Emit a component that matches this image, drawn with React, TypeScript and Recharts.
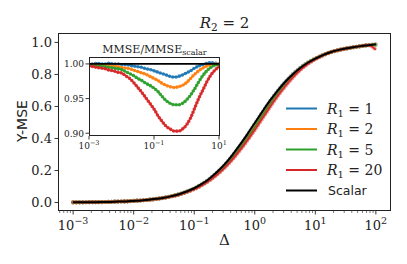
import { LineChart, Line, XAxis, YAxis, ReferenceLine } from 'recharts'

// #region Data
// log10(Δ) sampling grid
const EXPONENTS = [
  -3, -2.875, -2.75, -2.625, -2.5, -2.375, -2.25, -2.125, -2, -1.875, -1.75, -1.625, -1.5, -1.375,
  -1.25, -1.125, -1, -0.875, -0.75, -0.625, -0.5, -0.375, -0.25, -0.125, 0, 0.125, 0.25, 0.375,
  0.5, 0.625, 0.75, 0.875, 1, 1.125, 1.25, 1.375, 1.5, 1.625, 1.75, 1.875, 2,
]

// Y-MSE, main panel
const SCALAR = [
  0.001, 0.001, 0.002, 0.002, 0.003, 0.004, 0.006, 0.007, 0.01, 0.013, 0.017, 0.023, 0.03, 0.04,
  0.052, 0.069, 0.089, 0.116, 0.149, 0.19, 0.238, 0.295, 0.358, 0.426, 0.497, 0.568, 0.636, 0.698,
  0.753, 0.8, 0.84, 0.873, 0.899, 0.921, 0.939, 0.952, 0.962, 0.97, 0.977, 0.983, 0.989,
]
const Y_R1_1 = [
  0.001, 0.001, 0.002, 0.002, 0.003, 0.004, 0.006, 0.007, 0.01, 0.013, 0.017, 0.023, 0.03, 0.04,
  0.052, 0.068, 0.088, 0.115, 0.147, 0.187, 0.234, 0.289, 0.352, 0.419, 0.491, 0.562, 0.632, 0.696,
  0.752, 0.801, 0.842, 0.874, 0.899, 0.921, 0.939, 0.952, 0.962, 0.97, 0.977, 0.983, 0.989,
]
const Y_R1_2 = [
  0.001, 0.001, 0.002, 0.002, 0.003, 0.004, 0.006, 0.007, 0.01, 0.013, 0.017, 0.023, 0.03, 0.039,
  0.051, 0.068, 0.087, 0.113, 0.145, 0.184, 0.23, 0.285, 0.346, 0.413, 0.484, 0.556, 0.626, 0.691,
  0.748, 0.798, 0.839, 0.873, 0.899, 0.921, 0.939, 0.952, 0.962, 0.97, 0.977, 0.983, 0.988,
]
const Y_R1_5 = [
  0.001, 0.001, 0.002, 0.002, 0.003, 0.004, 0.006, 0.007, 0.01, 0.013, 0.017, 0.023, 0.029, 0.039,
  0.051, 0.067, 0.086, 0.111, 0.142, 0.18, 0.224, 0.278, 0.337, 0.402, 0.471, 0.542, 0.613, 0.68,
  0.74, 0.792, 0.836, 0.871, 0.898, 0.92, 0.938, 0.951, 0.961, 0.969, 0.976, 0.982, 0.984,
]
const Y_R1_20 = [
  0.001, 0.001, 0.002, 0.002, 0.003, 0.004, 0.006, 0.007, 0.01, 0.013, 0.017, 0.022, 0.029, 0.038,
  0.049, 0.065, 0.083, 0.107, 0.137, 0.173, 0.216, 0.266, 0.323, 0.386, 0.453, 0.524, 0.595, 0.663,
  0.724, 0.779, 0.827, 0.865, 0.895, 0.919, 0.938, 0.951, 0.961, 0.97, 0.977, 0.983, 0.955,
]

// MMSE / MMSE_scalar, inset (Δ from 1e-3 to 1e1)
const RATIO_R1_1 = [
  1.0, 1.0, 1.001, 1.0, 1.0, 1.001, 1.0, 1.0, 0.999, 0.999, 0.998, 0.997, 0.996, 0.995, 0.993,
  0.992, 0.99, 0.988, 0.986, 0.984, 0.982, 0.981, 0.982, 0.984, 0.987, 0.99, 0.994, 0.997, 0.999,
  1.001, 1.002, 1.001, 1.0,
]
const RATIO_R1_2 = [
  0.999, 0.999, 0.999, 0.998, 0.998, 0.997, 0.997, 0.996, 0.995, 0.994, 0.993, 0.991, 0.989, 0.987,
  0.985, 0.982, 0.979, 0.976, 0.972, 0.969, 0.967, 0.966, 0.967, 0.969, 0.973, 0.979, 0.985, 0.99,
  0.994, 0.997, 0.999, 1.0, 1.0,
]
const RATIO_R1_5 = [
  0.998, 0.998, 0.997, 0.997, 0.996, 0.995, 0.994, 0.993, 0.992, 0.989, 0.986, 0.983, 0.979, 0.976,
  0.972, 0.969, 0.965, 0.96, 0.953, 0.947, 0.943, 0.941, 0.941, 0.943, 0.948, 0.955, 0.964, 0.974,
  0.983, 0.99, 0.995, 0.998, 0.999,
]
const RATIO_R1_20 = [
  0.997, 0.996, 0.995, 0.994, 0.993, 0.991, 0.99, 0.988, 0.987, 0.983, 0.979, 0.973, 0.966, 0.959,
  0.951, 0.943, 0.935, 0.925, 0.917, 0.91, 0.906, 0.903, 0.903, 0.906, 0.912, 0.922, 0.936, 0.95,
  0.962, 0.974, 0.984, 0.991, 0.996,
]

const R1_LABELS = ['1', '2', '5', '20']
const MAIN_Y_TICKS = [0, 0.2, 0.4, 0.6, 0.8, 1.0]
const INSET_Y_TICKS = [0.9, 0.95, 1.0]
const MAIN_X_MAJOR = [1e-3, 1e-2, 1e-1, 1e0, 1e1, 1e2]
const INSET_X_TICKS = [1e-3, 1e-1, 1e1]
// #endregion

const COLORS = ['#1f77b4', '#ff7f0e', '#2ca02c', '#d62728']
const SERIF = '"DejaVu Serif", serif'
const SANS = '"DejaVu Sans", sans-serif'
const INK = '#222'

const mainKeys = ['r1', 'r2', 'r5', 'r20']
const mainSeries = [Y_R1_1, Y_R1_2, Y_R1_5, Y_R1_20]
const insetSeries = [RATIO_R1_1, RATIO_R1_2, RATIO_R1_5, RATIO_R1_20]

const mainData = EXPONENTS.map((e, i) => {
  const row: any = { delta: Math.pow(10, e), scalar: SCALAR[i] }
  mainKeys.forEach((k, j) => (row[k] = mainSeries[j][i]))
  return row
})

const insetData = EXPONENTS.slice(0, RATIO_R1_1.length).map((e, i) => {
  const row: any = { delta: Math.pow(10, e) }
  mainKeys.forEach((k, j) => (row[k] = insetSeries[j][i]))
  return row
})

const MAIN_X_DOMAIN = [Math.pow(10, -3.25), Math.pow(10, 2.25)]

// minor log ticks 2..9 x 10^n inside the main x domain
const minorTicks: number[] = []
for (let n = -4; n <= 2; n++) {
  for (let k = 2; k <= 9; k++) {
    const v = k * Math.pow(10, n)
    if (v > MAIN_X_DOMAIN[0] && v < MAIN_X_DOMAIN[1]) minorTicks.push(v)
  }
}
const MAIN_X_TICKS = [...MAIN_X_MAJOR, ...minorTicks].sort((a, b) => a - b)

const expLabel = (v: number) => {
  const e = Math.round(Math.log10(v))
  return e < 0 ? `\u2212${-e}` : `${e}`
}

const LogTick = ({ x, y, payload, big }: any) => {
  const e = Math.log10(payload.value)
  const major = Math.abs(e - Math.round(e)) < 1e-6
  const fs = big ? 13 : 9
  return (
    <g>
      <line x1={x} x2={x} y1={y} y2={y + (major ? 3.5 : 2)} stroke={INK} strokeWidth={major ? 0.9 : 0.6} />
      {major && (
        <text x={x} y={y + (big ? 19 : 13)} textAnchor="middle" fontFamily={SERIF} fontSize={fs} fill={INK}>
          10
          <tspan dy={big ? -6 : -4} fontSize={big ? 9.5 : 6.5}>
            {expLabel(payload.value)}
          </tspan>
        </text>
      )}
    </g>
  )
}

const ValueTick = ({ x, y, payload, big }: any) => (
  <g>
    <line x1={x - 3.5} x2={x} y1={y} y2={y} stroke={INK} strokeWidth={0.9} />
    <text
      x={x - (big ? 6 : 5)}
      y={y + (big ? 4.6 : 3.3)}
      textAnchor="end"
      fontFamily={SERIF}
      fontSize={big ? 13 : 9}
      fill={INK}
    >
      {payload.value.toFixed(big ? 1 : 2)}
    </text>
  </g>
)

// line plus a round-capped dash pattern that reads as dense circle markers
const seriesLines = (dotGap: number, dotSize: number, dotOpacity: number) =>
  mainKeys.flatMap((k, j) => [
    <Line
      key={`${k}-line`}
      dataKey={k}
      type="monotone"
      stroke={COLORS[j]}
      strokeWidth={1.5}
      dot={false}
      activeDot={false}
      isAnimationActive={false}
    />,
    <Line
      key={`${k}-dots`}
      dataKey={k}
      type="monotone"
      stroke={COLORS[j]}
      strokeWidth={dotSize}
      strokeLinecap="round"
      strokeDasharray={`0 ${dotGap}`}
      strokeOpacity={dotOpacity}
      dot={false}
      activeDot={false}
      isAnimationActive={false}
    />,
  ])

export default function App() {
  return (
    <div style={{ position: 'absolute', left: 0, top: 0, width: 407, height: 264, background: '#fff' }}>
      <div style={{ position: 'absolute', left: 0, top: 0 }}>
        <LineChart width={407} height={264} data={mainData} margin={{ top: 33, right: 16, left: 0, bottom: 23 }}>
          <XAxis
            dataKey="delta"
            type="number"
            scale="log"
            domain={MAIN_X_DOMAIN}
            allowDataOverflow
            ticks={MAIN_X_TICKS}
            interval={0}
            height={30}
            axisLine={false}
            tickLine={false}
            tickSize={0}
            tickMargin={0}
            tick={<LogTick big />}
          />
          <YAxis
            type="number"
            domain={[-0.053, 1.059]}
            allowDataOverflow
            ticks={MAIN_Y_TICKS}
            interval={0}
            width={58}
            axisLine={false}
            tickLine={false}
            tickSize={0}
            tickMargin={0}
            tick={<ValueTick big />}
          />
          {seriesLines(3.2, 4.2, 0.5)}
          <Line
            dataKey="scalar"
            type="monotone"
            stroke="#000"
            strokeWidth={2}
            dot={false}
            activeDot={false}
            isAnimationActive={false}
          />
        </LineChart>
      </div>

      <div style={{ position: 'absolute', left: 89, top: 57, width: 130, height: 79, background: '#fff' }} />

      <div style={{ position: 'absolute', left: 0, top: 0 }}>
        <LineChart width={230} height={160} data={insetData} margin={{ top: 57, right: 11, left: 0, bottom: 6 }}>
          <XAxis
            dataKey="delta"
            type="number"
            scale="log"
            domain={[1e-3, 1e1]}
            allowDataOverflow
            ticks={INSET_X_TICKS}
            interval={0}
            height={18}
            axisLine={false}
            tickLine={false}
            tickSize={0}
            tickMargin={0}
            tick={<LogTick />}
          />
          <YAxis
            type="number"
            domain={[0.896, 1.01]}
            allowDataOverflow
            ticks={INSET_Y_TICKS}
            interval={0}
            width={89}
            axisLine={false}
            tickLine={false}
            tickSize={0}
            tickMargin={0}
            tick={<ValueTick />}
          />
          {seriesLines(3.3, 3.6, 0.9)}
          <ReferenceLine y={1} stroke="#000" strokeWidth={1.8} />
        </LineChart>
      </div>

      <svg width={407} height={264} style={{ position: 'absolute', left: 0, top: 0, pointerEvents: 'none' }}>
        <rect x={58.5} y={33.5} width={332} height={177} fill="none" stroke={INK} strokeWidth={1} />
        <rect x={89.5} y={57.5} width={130} height={78} fill="none" stroke={INK} strokeWidth={1} />

        <text x={224.5} y={28} textAnchor="middle" fontFamily={SERIF} fontSize={15} fill={INK}>
          <tspan fontStyle="italic">R</tspan>
          <tspan fontSize={10.5} dy={3}>2</tspan>
          <tspan dy={-3}> = 2</tspan>
        </text>
        <text x={224.5} y={245} textAnchor="middle" fontFamily={SERIF} fontSize={15} fill={INK}>
          Δ
        </text>
        <text
          x={0}
          y={0}
          transform="translate(27,121) rotate(-90)"
          textAnchor="middle"
          fontFamily={SANS}
          fontSize={14}
          fill={INK}
        >
          Y-MSE
        </text>
        <text x={154.5} y={53} textAnchor="middle" fontFamily={SERIF} fontSize={11} fill={INK}>
          MMSE/MMSE
          <tspan fontSize={8} dy={2}>scalar</tspan>
        </text>

        {R1_LABELS.map((lab, i) => {
          const yy = 108.5 + i * 20.5
          return (
            <g key={lab}>
              <line x1={286} x2={317} y1={yy} y2={yy} stroke={COLORS[i]} strokeWidth={2} />
              <text x={327} y={yy + 5} fontFamily={SERIF} fontSize={14} fill={INK}>
                <tspan fontStyle="italic">R</tspan>
                <tspan fontSize={10} dy={3}>1</tspan>
                <tspan dy={-3}> = {lab}</tspan>
              </text>
            </g>
          )
        })}
        <line x1={286} x2={317} y1={190.5} y2={190.5} stroke="#000" strokeWidth={2} />
        <text x={328} y={195} fontFamily={SANS} fontSize={12.5} fill={INK}>
          Scalar
        </text>
      </svg>
    </div>
  )
}
